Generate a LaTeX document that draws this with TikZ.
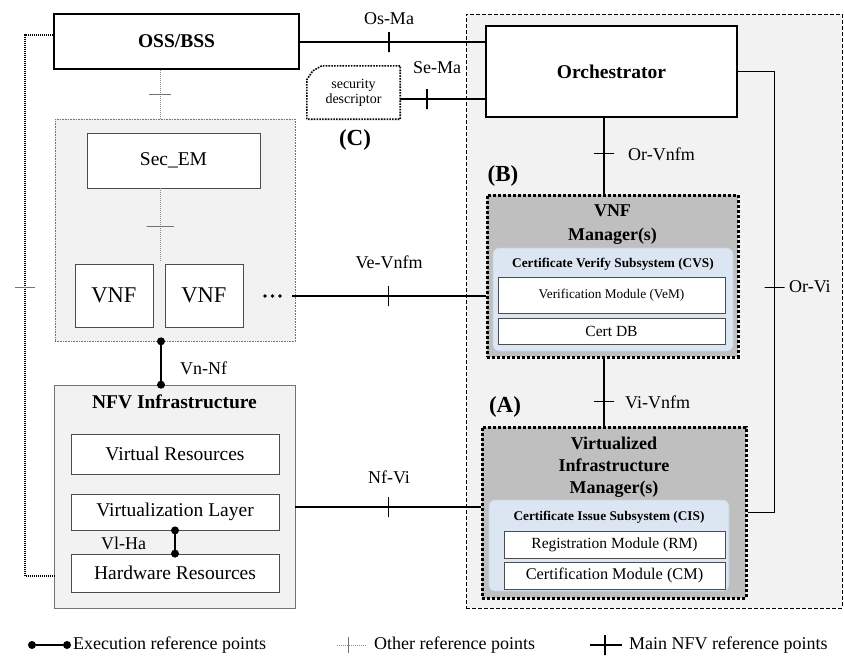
\documentclass[tikz,border=0pt]{standalone}
\usepackage{fontspec}
\setmainfont{Liberation Serif}
\usetikzlibrary{calc}
\newcommand\fA{\fontsize{19.5}{22}\selectfont}
\newcommand\fB{\fontsize{18}{21}\selectfont}
\newcommand\fM{\fontsize{18}{24}\selectfont}
\newcommand\fN{\fontsize{18}{22}\selectfont}
\newcommand\fV{\fontsize{22.5}{24}\selectfont}
\newcommand\fC{\fontsize{13.3}{15}\selectfont}
\newcommand\fD{\fontsize{15.5}{17}\selectfont}
\newcommand\fS{\fontsize{14}{15}\selectfont}
\newcommand\fL{\fontsize{23}{25}\selectfont}
\definecolor{lgray}{HTML}{F2F2F2}
\definecolor{mgray}{HTML}{BFBFBF}
\definecolor{lblue}{HTML}{DCE6F2}
\definecolor{lbluebd}{HTML}{C5D3E6}
\begin{document}
\begin{tikzpicture}[x=1pt,y=-1pt,
  box/.style={draw=black, line width=1.2pt, fill=white, inner sep=0pt, align=center},
  ibox/.style={draw=black!70, line width=0.8pt, fill=white, inner sep=0pt, align=center},
  grp/.style={draw=black!55, line width=0.6pt, fill=lgray, inner sep=0pt},
  grpdot/.style={draw=black!55, line width=0.6pt, dash pattern=on 1pt off 0.6pt, fill=lgray, inner sep=0pt},
  region/.style={draw=black, line width=0.8pt, dash pattern=on 4pt off 2pt, fill=lgray, inner sep=0pt},
  mgr/.style={draw=black, line width=3pt, dash pattern=on 3pt off 2pt, fill=mgray, inner sep=0pt},
  sub/.style={draw=lbluebd, line width=0.6pt, fill=lblue, rounded corners=6pt, inner sep=0pt},
  main/.style={line width=1.6pt},
  other/.style={draw=black!45, line width=0.6pt, dash pattern=on 1pt off 1pt},
  leftdot/.style={line width=1.3pt, dash pattern=on 1.2pt off 0.8pt},
  mtick/.style={draw, line width=1.2pt, minimum width=0pt, minimum height=20pt, inner sep=0pt, sloped, rectangle},
  gtick/.style={draw=black!55, line width=0.6pt, minimum width=0pt, minimum height=22pt, inner sep=0pt, sloped, rectangle},
  edot/.style={circle, fill=black, inner sep=0pt, minimum size=8pt},
  sdot/.style={circle, fill=black, inner sep=0pt, minimum size=3.6pt},
  lbl/.style={inner sep=0pt, font=\fB},
  tag/.style={inner sep=0pt, font=\fL\bfseries}
]
\useasboundingbox (0,0) rectangle (844,657);

% MANO region
\node[region, minimum width=376pt, minimum height=594pt] (mano) at (654,311) {};

% OSS/BSS
\node[box, minimum width=245pt, minimum height=55pt, font=\fA\bfseries] (oss) at (176.5,41.5) {OSS/BSS};

% Orchestrator
\node[box, minimum width=251pt, minimum height=91pt, font=\fA\bfseries] (orch) at (611.5,71.5) {Orchestrator};

% security descriptor
\node[inner sep=0pt, minimum width=93pt, minimum height=53pt, align=center, font=\fS] (sd) at (353.5,92.5) {security\\descriptor};
\draw[line width=1.6pt, dash pattern=on 1.6pt off 1.2pt]
  (sd.south west) -- ($(sd.north west)+(0,14)$) -- ($(sd.north west)+(6,5)$) -- ($(sd.north west)+(15,0)$) -- (sd.north east) -- (sd.south east) -- cycle;
\node[tag] (tC) at (355,140) {(C)};

% VNF group
\node[grpdot, minimum width=240pt, minimum height=222pt] (vgrp) at (175,230) {};
\node[ibox, minimum width=173pt, minimum height=55pt, font=\fA] (secem) at (173.5,160.5) {Sec\_EM};
\node[ibox, minimum width=78pt, minimum height=63pt, font=\fV] (vnf1) at (114,295.5) {VNF};
\node[ibox, minimum width=78pt, minimum height=63pt, font=\fV] (vnf2) at (204,295.5) {VNF};
\node[sdot] (d1) at (265,296) {};
\node[sdot] (d2) at (272.5,296) {};
\node[sdot] (d3) at (280,296) {};

% NFV Infrastructure
\node[grp, minimum width=241pt, minimum height=223pt] (nfv) at (174.5,496.5) {};
\node[inner sep=0pt, font=\fA\bfseries] (nfvt) at (174.5,402) {NFV Infrastructure};
\node[ibox, minimum width=208pt, minimum height=40pt, font=\fA] (vr) at (175,454) {Virtual Resources};
\node[ibox, minimum width=208pt, minimum height=36pt, font=\fA] (vl) at (175,512) {Virtualization Layer};
\node[ibox, minimum width=208pt, minimum height=38pt, font=\fA] (hr) at (175,573) {Hardware Resources};

% VNF Manager
\node[mgr, minimum width=251pt, minimum height=162pt] (vnfm) at (612.5,276) {};
\node[inner sep=0pt, align=center, font=\fM\bfseries] (vnfmt) at (612.5,225) {VNF\\Manager(s)};
\node[sub, minimum width=240pt, minimum height=103pt] (cvs) at (613,299.5) {};
\node[inner sep=0pt, font=\fC\bfseries] (cvst) at (613,264) {Certificate Verify Subsystem (CVS)};
\node[ibox, minimum width=227pt, minimum height=36pt, font=\fC] (vem) at (611.5,295) {Verification Module (VeM)};
\node[ibox, minimum width=227pt, minimum height=26pt, font=\fD] (cdb) at (611.5,331) {Cert DB};

% VIM
\node[mgr, minimum width=264pt, minimum height=171pt] (vim) at (614,512.5) {};
\node[inner sep=0pt, align=center, font=\fN\bfseries] (vimt) at (614,467) {Virtualized\\Infrastructure\\Manager(s)};
\node[sub, minimum width=240pt, minimum height=91pt] (cis) at (609,545.5) {};
\node[inner sep=0pt, font=\fC\bfseries] (cist) at (609,517) {Certificate Issue Subsystem (CIS)};
\node[ibox, minimum width=221pt, minimum height=27pt, font=\fD] (rm) at (614.5,544.5) {Registration Module (RM)};
\node[ibox, minimum width=221pt, minimum height=27pt, font=\fontsize{16.3}{18}\selectfont] (cm) at (614.5,575.5) {Certification Module (CM)};

% tags
\node[tag] (tB) at (503,176) {(B)};
\node[tag] (tA) at (505,407) {(A)};

% ---- main reference points ----
\draw[main] ($(oss.east)+(0,0.5)$) -- node[pos=0.481, mtick]{} ($(oss.east -| orch.west)+(0,0.5)$);
\node[lbl] (lOsMa) at (389,19) {Os-Ma};

\draw[main] ($(sd.east)+(0,6.5)$) -- node[pos=0.314, mtick]{} ($(sd.east -| orch.west)+(0,6.5)$);
\node[lbl] (lSeMa) at (437,68) {Se-Ma};

\coordinate (xov) at (604,0);
\draw[main] (orch.south -| xov) -- node[pos=0.474, mtick]{} (vnfm.north -| xov);
\node[lbl, anchor=west] (lOrVnfm) at (628,154) {Or-Vnfm};

\draw[main] (vnfm.south -| xov) -- node[pos=0.643, mtick]{} (vim.north -| xov);
\node[lbl, anchor=west] (lViVnfm) at (625,402) {Vi-Vnfm};

\draw[line width=1.2pt] (orch.east) -- ++(37,0) coordinate (orc) |- (vim.east);
\path (orc) -- node[pos=0.489, mtick, line width=0.9pt]{} (orc |- vim.east);
\node[lbl, anchor=west] (lOrVi) at (789,287) {Or-Vi};

\coordinate (vev) at (292,296);
\draw[main] (vev) -- node[pos=0.497, mtick]{} (vev -| vnfm.west);
\node[lbl] (lVeVnfm) at (389,262) {Ve-Vnfm};

\coordinate (nfv1) at (295,507);
\draw[main] (nfv1) -- node[pos=0.503, mtick]{} (nfv1 -| vim.west);
\node[lbl] (lNfVi) at (389,477) {Nf-Vi};

% ---- execution reference points ----
\coordinate (xvn) at (161,0);
\draw[line width=1.4pt] (vgrp.south -| xvn) node[edot]{} -- (nfv.north -| xvn) node[edot]{};
\node[lbl, anchor=west] (lVnNf) at (180,368) {Vn-Nf};
\draw[line width=1.4pt] (vl.south) node[edot]{} -- (hr.north) node[edot]{};
\node[lbl, anchor=west] (lVlHa) at (101,543) {Vl-Ha};

% ---- other reference points ----
\coordinate (xo) at (160,0);
\draw[other] (oss.south -| xo) -- node[pos=0.5, gtick]{} (vgrp.north -| xo);
\coordinate (ov2) at (160,262);
\draw[other] (secem.south -| xo) -- node[pos=0.51, gtick, minimum height=27pt]{} (ov2);

\coordinate (lt) at (25,35);
\coordinate (lb) at (25,576);
\draw[leftdot] (oss.west |- lt) -- (lt) -- (lb) -- (lb -| nfv.west);
\draw[black!55, line width=0.6pt] (15,287) -- (35,287);

% ---- legend ----
\node[edot] (le1) at (32,645) {};
\node[edot] (le2) at (67,645) {};
\draw[line width=1.4pt] (le1) -- (le2);
\node[lbl, anchor=west] (lex) at (73,645) {Execution reference points};

\coordinate (lo1) at (337,645);
\coordinate (lo2) at (367,645);
\draw[other] (lo1) -- node[pos=0.37, gtick, minimum height=16pt]{} (lo2);
\node[lbl, anchor=west] (lot) at (374,645) {Other reference points};

\coordinate (lm1) at (590,645);
\coordinate (lm2) at (622,645);
\draw[line width=1.4pt] (lm1) -- node[pos=0.47, mtick]{} (lm2);
\node[lbl, anchor=west] (lmt) at (629,645) {Main NFV reference points};
\end{tikzpicture}
\end{document}
